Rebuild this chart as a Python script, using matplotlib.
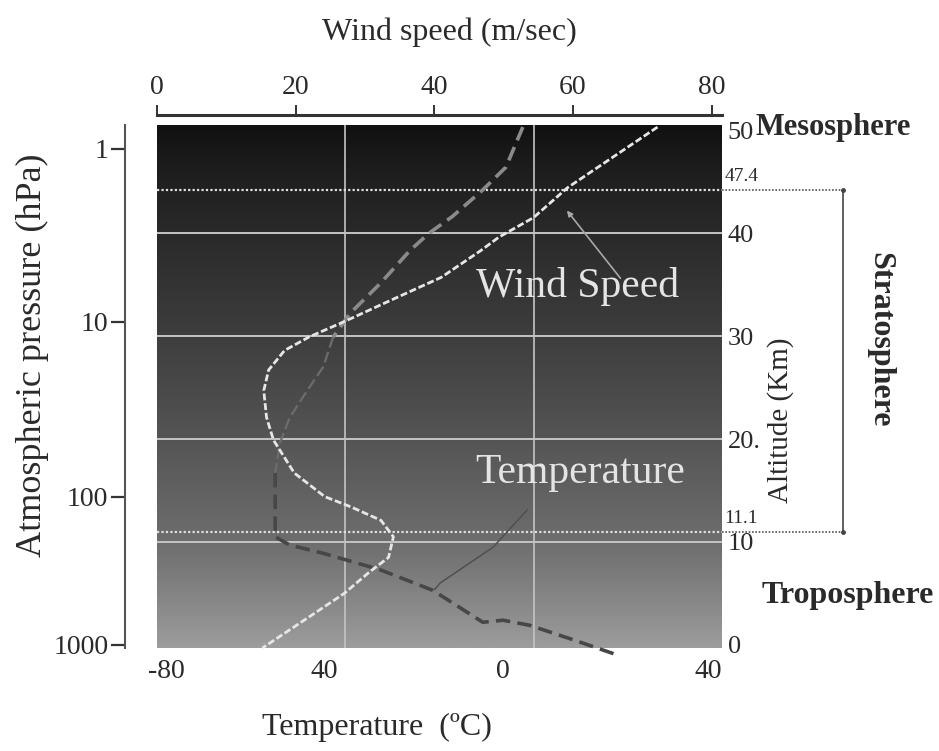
import numpy as np
import matplotlib.pyplot as plt
from matplotlib.colors import LinearSegmentedColormap

plt.rcParams['font.family'] = ['Liberation Serif', 'DejaVu Serif']

# wind speed profile (m/sec) vs altitude (km)
wind_alt = [50.3, 44.4, 41.5, 39.6, 38.3, 35.7, 33.5, 31.4, 29.9, 28.6, 26.7, 24.7,
            22.1, 19.9, 16.7, 14.4, 13.4, 12.1, 10.5, 8.5, 7.0, 5.0, 2.7, -0.3]
wind_speed = [72.2, 59.2, 54.3, 49.3, 46.7, 41.0, 33.8, 27.0, 21.9, 18.4, 16.1, 15.4,
              15.8, 16.8, 19.8, 24.2, 28.0, 32.3, 34.1, 33.4, 30.5, 27.0, 21.9, 15.2]

# temperature profile (degC) vs altitude (km)
temp_alt = [50.3, 46.4, 44.2, 41.6, 40.0, 38.3, 35.1, 32.2, 29.9, 27.0, 24.7, 22.1,
            19.6, 16.7, 10.5, 9.7, 8.9, 7.3, 5.3, 2.2, 2.4, 1.9, 0.5, -1.0]
temp_c = [-2.3, -5.9, -10.8, -17.3, -22.2, -26.3, -32.6, -39.0, -42.6, -44.7, -48.1, -51.8,
          -53.9, -54.9, -54.9, -51.8, -44.7, -32.6, -21.4, -10.8, -6.5, -0.8, 8.4, 17.9]

# thin grey line near the tropopause
aux_alt = [13.1, 9.5, 6.0, 5.4]
aux_temp = [-1.4, -8.6, -19.9, -21.0]

# axis ticks
alt_ticks = [0, 10, 20, 30, 40, 50]
alt_labels = ['0', '10', '20.', '30', '40', '50']
grid_alts = [10, 20, 30, 40]
pressure_tick_alt = [48.2, 31.4, 14.4, 0.0]
pressure_labels = ['1', '10', '100', '1000']
wind_ticks = [0, 20, 40, 60, 80]
temp_tick_pos = [-78, -44.5, -6.5, 37]
temp_tick_labels = ['-80', '40', '0', '40']
temp_grid = [-40, 0]

# layer boundaries (position in the picture, printed value)
tropopause_y, tropopause_lbl = 11.0, '11.1'
stratopause_y, stratopause_lbl = 44.2, '47.4'

# background shading
bg_alt = [0, 5, 10, 20, 30, 40, 47, 50.5]
bg_grey = ['#9c9c9c', '#848484', '#6e6e6e', '#555555', '#3e3e3e', '#2a2a2a', '#1c1c1c', '#111111']

TXT = '#2a2a2a'

fig = plt.figure(figsize=(9.39, 7.51), dpi=100)
ax = fig.add_axes([157/939, 1-648/751, 565/939, 523/751])
ax.set_xlim(-80, 40)
ax.set_ylim(-0.3, 50.5)

# gradient
pos = [(a - bg_alt[0]) / (bg_alt[-1] - bg_alt[0]) for a in bg_alt]
cmap = LinearSegmentedColormap.from_list('bg', list(zip(pos, bg_grey)))
grad = np.linspace(0, 1, 300).reshape(-1, 1)
ax.imshow(grad, extent=[-80, 40, -0.3, 50.5], aspect='auto', cmap=cmap,
          origin='lower', zorder=0)

for a in grid_alts:
    ax.axhline(a, color='#c4c4c4', lw=1.4, zorder=1)
for t in temp_grid:
    ax.axvline(t, color='#c4c4c4', lw=1.2, zorder=1)

# layer boundaries + bracket
ytr = ax.get_yaxis_transform()
for yb in (stratopause_y, tropopause_y):
    ax.plot([0, 1], [yb, yb], transform=ytr, color='#e0e0e0', lw=1.6,
            ls=(0, (1, 1)), zorder=2)
    ax.plot([1, 1.214], [yb, yb], transform=ytr, color='#555555', lw=1.2,
            ls=(0, (1, 1)), clip_on=False)
ax.plot([1.214, 1.214], [tropopause_y, stratopause_y], transform=ytr,
        color='#444444', lw=1.2, marker='.', ms=5, clip_on=False)
ax.text(1.004, stratopause_y + 0.5, stratopause_lbl, transform=ytr, fontsize=14,
        color=TXT, va='bottom', ha='left')
ax.text(1.004, tropopause_y + 0.5, tropopause_lbl, transform=ytr, fontsize=14,
        color=TXT, va='bottom', ha='left')

# temperature curve (lighter up high, faint in the middle, dark below)
ax.plot(temp_c[:9], temp_alt[:9], color='#8a8a8a', lw=2.6, ls=(0, (4, 2)),
        zorder=3, clip_on=False)
ax.plot(temp_c[8:14], temp_alt[8:14], color='#6c6c6c', lw=1.6, ls=(0, (5, 2)), zorder=3)
ax.plot(temp_c[13:], temp_alt[13:], color='#474747', lw=2.6, ls=(0, (4, 2)),
        zorder=3, clip_on=False)
ax.plot(aux_temp, aux_alt, color='#505050', lw=1.1, zorder=3)

ax.text(9.8, 16.7, 'Temperature', fontsize=30, color='#e4e4e4', ha='center', va='center')
ax.text(9.4, 34.8, 'Wind Speed', fontsize=30, color='#e4e4e4', ha='center', va='center')
ax.annotate('', xy=(6.7, 42.4), xytext=(18.8, 35.4),
            arrowprops=dict(arrowstyle='-|>', color='#a8a8a8', lw=1.2,
                            mutation_scale=8))

# left: pressure
for s in ['top', 'right', 'bottom']:
    ax.spines[s].set_visible(False)
ax.spines['left'].set_position(('outward', 23))
ax.spines['left'].set_color('#555555')
ax.spines['left'].set_linewidth(1.5)
ax.set_yticks(pressure_tick_alt)
ax.set_yticklabels(pressure_labels)
ax.tick_params(axis='y', length=10, width=1.6, color='#333333', labelsize=20,
               labelcolor=TXT, pad=2)
ax.set_xticks(temp_tick_pos)
ax.set_xticklabels(temp_tick_labels)
ax.tick_params(axis='x', length=0, labelsize=20, labelcolor=TXT, pad=8)

# top: wind speed
ax2 = ax.twiny()
ax2.set_xlim(0.3, 81.5)
ax2.plot(wind_speed, wind_alt, color='#e6e6e6', lw=2.0, ls=(0, (2.5, 1)),
         zorder=4, clip_on=False)
for s in ['left', 'right', 'bottom']:
    ax2.spines[s].set_visible(False)
ax2.spines['top'].set_position(('outward', 7))
ax2.spines['top'].set_linewidth(2.2)
ax2.spines['top'].set_color('#333333')
ax2.set_xticks(wind_ticks)
ax2.tick_params(axis='x', length=7, width=1.4, color='#333333', labelsize=20,
                labelcolor=TXT, pad=4)

# right: altitude
ax3 = ax.twinx()
ax3.set_ylim(-0.3, 50.5)
for s in ['left', 'right', 'bottom', 'top']:
    ax3.spines[s].set_visible(False)
ax3.set_yticks(alt_ticks)
ax3.set_yticklabels(alt_labels)
ax3.tick_params(axis='y', length=0, labelsize=19, labelcolor=TXT, pad=4)

# labels
fig.text(449/939, 1-32/751, 'Wind speed (m/sec)', fontsize=23, color=TXT,
         ha='center', va='center')
fig.text(377/939, 1-727/751, 'Temperature  (ºC)', fontsize=23, color=TXT,
         ha='center', va='center')
fig.text(32/939, 1-355/751, 'Atmospheric pressure (hPa)', fontsize=26, color=TXT,
         ha='center', va='center', rotation=90)
fig.text(781/939, 1-420/751, 'Altitude (Km)', fontsize=21, color=TXT,
         ha='center', va='center', rotation=90)
fig.text(880/939, 1-340/751, 'Stratosphere', fontsize=23, color=TXT, weight='bold',
         ha='center', va='center', rotation=-90)
fig.text(756/939, 1-127/751, 'Mesosphere', fontsize=22, color=TXT, weight='bold',
         ha='left', va='center')
fig.text(762/939, 1-596/751, 'Troposphere', fontsize=23, color=TXT, weight='bold',
         ha='left', va='center')

fig.savefig('out.png', dpi=100)
